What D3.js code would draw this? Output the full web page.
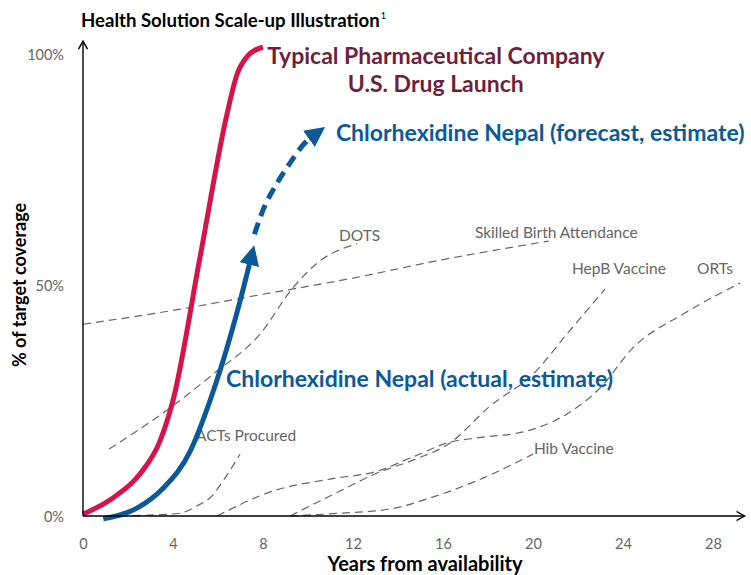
<!DOCTYPE html>
<html lang="en">
<head>
<meta charset="UTF-8">
<title>Health Solution Scale-up Illustration</title>
<script src="https://d3js.org/d3.v7.min.js"></script>
<style>
  body { margin: 0; background: #fff; }
  text { font-family: "Gill Sans", Lato, "Open Sans", sans-serif; }
</style>
</head>
<body>
<svg id="chart" width="751" height="575"></svg>
<script>
// ticks
const xTicks = [0, 4, 8, 12, 16, 20, 24, 28];
const yTicks = [0, 50, 100];

// [year, % coverage]
const pharma = [[0,0.4],[1.33,3.9],[2.53,9.1],[3.42,16.2],[4,25],[5.2,56],[6.4,87],[6.84,95.5],[7.3,99.5],[8,101.5]];
const chxActual = [[0.9,-0.6],[2.4,1.7],[3.56,6],[4.76,14],[5.64,24.9],[6.22,33.5],[6.98,46.5],[7.5,56.5]];
const chxForecast = [[7.62,61],[8,66.2],[8.62,72],[9.2,76.4],[9.78,80.3],[10.4,82.9]];

const dots = [[1.16,14.5],[3.87,23.4],[5.78,30.7],[7.87,39.4],[9.33,49.4],[10.53,55.2],[12.18,58.9]];
const birth = [[0,41.5],[4,44.5],[8,48],[12,51.5],[16,55.5],[20.7,59.5]];
const hepb = [[9.2,0],[11.42,5.4],[13.07,9.3],[14.67,12.1],[16.31,15.8],[18.09,23.8],[20,30.7],[21.51,39.4],[23.2,49.1]];
const orts = [[5.96,0],[8.44,5.4],[10.98,8],[13.07,9.7],[14.67,12.8],[16.31,16],[17.51,16.9],[19.73,18.4],[21.51,22.1],[22.98,27.7],[24.44,36.4],[26.67,43.7],[29.2,50.4]];
const acts = [[1.64,0],[2.98,0.2],[4.31,0.6],[5.07,2.2],[5.64,3.9],[6.31,8.2],[6.98,13.4]];
const hib = [[9.2,0],[11.42,0.6],[13.64,1.5],[15.42,3.9],[17.78,8.2],[20,13.4]];

const greySeries = [dots, birth, hepb, orts, acts, hib];
const greyLabels = [
  {text: "DOTS", year: 11.38, pct: 59.5},
  {text: "Skilled Birth Attendance", year: 17.42, pct: 60.2},
  {text: "HepB Vaccine", year: 21.73, pct: 52.4},
  {text: "ORTs", year: 27.29, pct: 52.4},
  {text: "ACTs Procured", year: 5.02, pct: 16.2},
  {text: "Hib Vaccine", year: 20.04, pct: 13.4}
];

const red = "#d6144a", blue = "#0a5a9b", maroon = "#6e1f3d", grey = "#666";

const svg = d3.select("#chart");
const x = d3.scaleLinear().domain([0, 29.4]).range([83, 744.5]);
const y = d3.scaleLinear().domain([0, 100]).range([516, 54]);

const line = d3.line().x(d => x(d[0])).y(d => y(d[1])).curve(d3.curveMonotoneX);

const defs = svg.append("defs");
defs.append("marker").attr("id", "chev")
  .attr("viewBox", "0 0 10 10").attr("refX", 9).attr("refY", 5)
  .attr("markerWidth", 10).attr("markerHeight", 10).attr("markerUnits", "userSpaceOnUse")
  .attr("orient", "auto")
  .append("path").attr("d", "M1,0.5L9,5L1,9.5").attr("fill", "none").attr("stroke", "#000").attr("stroke-width", 1.4);
defs.append("marker").attr("id", "tri")
  .attr("viewBox", "0 0 10 10").attr("refX", 5).attr("refY", 5)
  .attr("markerWidth", 4).attr("markerHeight", 4)
  .attr("orient", "auto")
  .append("path").attr("d", "M0,0L10,5L0,10Z").attr("fill", blue);

// grey dashed comparators
svg.append("g").selectAll("path").data(greySeries).join("path")
  .attr("d", line).attr("fill", "none")
  .attr("stroke", grey).attr("stroke-width", 1.2).attr("stroke-dasharray", "8,5");

svg.append("g").selectAll("text").data(greyLabels).join("text")
  .attr("x", d => x(d.year)).attr("y", d => y(d.pct))
  .attr("font-size", 15.5).attr("fill", grey).text(d => d.text);

// main curves
svg.append("path").attr("d", line(pharma)).attr("fill", "none")
  .attr("stroke", red).attr("stroke-width", 5);
svg.append("path").attr("d", line(chxActual)).attr("fill", "none")
  .attr("stroke", blue).attr("stroke-width", 5).attr("marker-end", "url(#tri)");
svg.append("path").attr("d", line(chxForecast)).attr("fill", "none")
  .attr("stroke", blue).attr("stroke-width", 5).attr("stroke-dasharray", "12,7")
  .attr("marker-end", "url(#tri)");

// axes
svg.append("line").attr("x1", x(0)).attr("y1", y(0)).attr("x2", x(29.4)).attr("y2", y(0))
  .attr("stroke", "#000").attr("stroke-width", 1.4).attr("marker-end", "url(#chev)");
svg.append("line").attr("x1", x(0)).attr("y1", y(0)).attr("x2", x(0)).attr("y2", y(102.8))
  .attr("stroke", "#000").attr("stroke-width", 1.4).attr("marker-end", "url(#chev)");

const xAxis = svg.append("g").attr("transform", `translate(0,${y(0) + 20})`)
  .call(d3.axisBottom(x).tickValues(xTicks).tickSize(0).tickFormat(d3.format("d")));
const yAxis = svg.append("g").attr("transform", `translate(${x(0) - 16},0)`)
  .call(d3.axisLeft(y).tickValues(yTicks).tickSize(0).tickFormat(d => d + "%"));
[xAxis, yAxis].forEach(g => {
  g.select(".domain").remove();
  g.selectAll("text").attr("font-family", null).attr("font-size", 14.5).attr("fill", grey);
});
yAxis.selectAll("text").attr("dy", "0.35em");

svg.append("text").attr("x", 425).attr("y", 571).attr("text-anchor", "middle")
  .attr("font-size", 20).attr("font-weight", "bold").text("Years from availability");
svg.append("text").attr("transform", `translate(26,${y(50)}) rotate(-90)`).attr("text-anchor", "middle")
  .attr("font-size", 18).attr("font-weight", "bold").text("% of target coverage");

const title = svg.append("text").attr("x", 81).attr("y", 27).attr("font-size", 18.6).attr("font-weight", "bold");
title.append("tspan").text("Health Solution Scale-up Illustration");
title.append("tspan").attr("font-size", 9).attr("font-weight", "normal").attr("dy", -8).attr("dx", 1).text("1");

// series annotations
const pharmaLabel = svg.append("text").attr("text-anchor", "middle")
  .attr("font-size", 23).attr("font-weight", "bold").attr("fill", maroon);
pharmaLabel.append("tspan").attr("x", x(15.68)).attr("y", y(97.8)).text("Typical Pharmaceutical Company");
pharmaLabel.append("tspan").attr("x", x(15.68)).attr("y", y(91.8)).text("U.S. Drug Launch");

svg.append("text").attr("x", x(11.24)).attr("y", y(81.2))
  .attr("font-size", 23).attr("font-weight", "bold").attr("fill", blue)
  .text("Chlorhexidine Nepal (forecast, estimate)");
svg.append("text").attr("x", x(6.36)).attr("y", y(27.9))
  .attr("font-size", 23).attr("font-weight", "bold").attr("fill", blue)
  .text("Chlorhexidine Nepal (actual, estimate)");
</script>
</body>
</html>
